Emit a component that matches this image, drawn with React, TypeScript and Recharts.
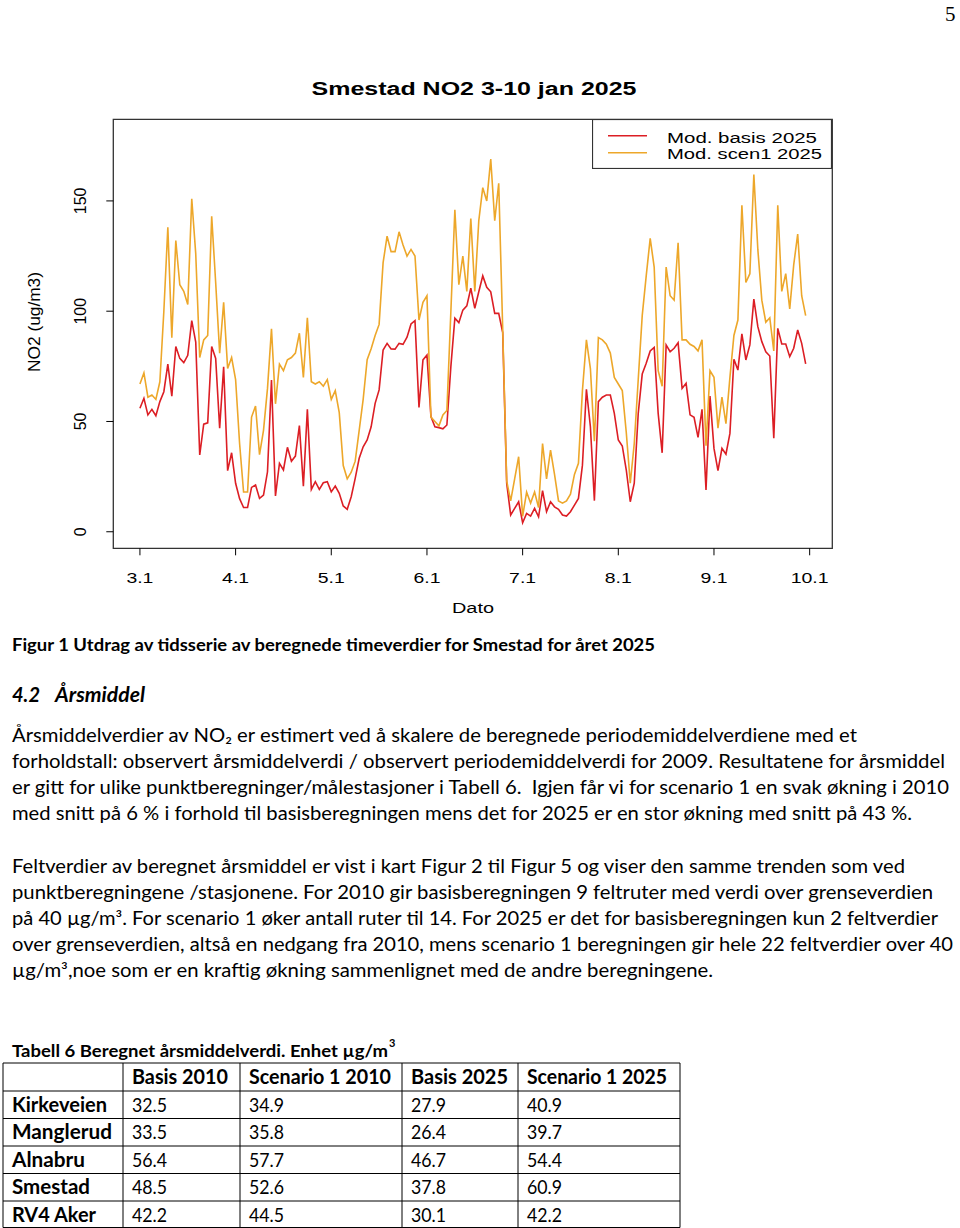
import React from 'react';
import { LineChart, Line, XAxis, YAxis, ReferenceArea, Legend } from 'recharts';

// Hourly NO2 values, 3 Jan 00:00 .. 9 Jan 23:00
const basis2025: number[] = [
  56, 60.5, 53, 55.5, 52.6, 59, 63.5, 76, 61.5, 84, 78.6, 76.7, 80, 95.7, 86, 34.8, 48.8, 49.4, 84, 78.6, 46.9, 74.8, 27.7, 35.8,
  22, 15, 11, 11, 20.1, 21.2, 15.1, 16.6, 27.2, 68.8, 16.2, 31, 28, 38.3, 32, 34.3, 48.1, 20.7, 55.5, 19.2, 22.7, 19.2, 22.2, 22.7,
  18.1, 20.7, 17.4, 11.7, 10.2, 15.9, 24.2, 33.3, 38.5, 41.6, 47.6, 58.2, 64.3, 82.4, 85.4, 82.9, 82.8, 85.4, 85, 88.2, 94.2, 95.7, 56.4, 77.9,
  80.1, 52.2, 47.6, 47.2, 46.7, 48.4, 75, 96.8, 94.8, 100.5, 102.4, 110.4, 101.3, 108.8, 116, 110.8, 108.8, 99, 99, 90.3, 22, 7.6,
  10.6, 13.6, 4.1, 8.3, 7.1, 10.6, 6.8, 18.6, 9.1, 13.6, 11.3, 10.2, 7.6, 7.1, 9.1, 12.1, 15.1, 30.2, 64.6, 47.6, 14.1, 59, 61, 62,
  62, 53.7, 41.6, 38.9, 28, 13.6, 22, 53.7, 71.5, 76.4, 82, 83.6, 53.7, 35.8, 84.7, 81.6, 83.2, 85.7, 65, 67.3, 53, 51.9, 42.8, 55.5,
  18.9, 61.5, 37.8, 27.7, 37.8, 35.2, 44.6, 78.2, 73.3, 89.7, 77.9, 84.7, 105.5, 93, 86.2, 81.6, 79.7, 42.4, 92.2, 85.1, 85.1, 79.4, 83.2, 91.5,
  85.4, 76.1,
];
const scen12025: number[] = [
  67, 72, 61, 62, 60, 68, 100, 138, 88, 132, 112, 109, 103, 151, 126, 79, 87, 89, 143, 113, 81, 104, 74, 79,
  69, 40, 18, 18, 52, 57, 35, 46, 65, 92, 58, 76, 73, 78, 79, 81, 90, 70, 97, 68, 67, 68, 66, 69,
  60, 64, 54, 30, 24, 27, 32, 46, 60, 78, 83, 89, 94, 122, 134, 127, 127, 136, 130, 125, 128, 125, 96, 104,
  107, 52, 50, 48, 53, 55, 100, 146, 112, 125, 109, 142, 109, 141, 156, 150, 169, 141, 158, 92, 23, 14,
  24, 34, 7, 18, 13, 18, 11, 40, 24, 37, 26, 14, 13, 14, 17, 26, 31, 64, 87, 74, 41, 88, 87, 85,
  81, 70, 67, 64, 45, 22, 40, 69, 98, 116, 133, 120, 73, 66, 120, 107, 105, 131, 87, 87, 85, 84, 82, 87,
  39, 73, 70, 47, 61, 49, 70, 89, 96, 148, 113, 117, 162, 128, 105, 95, 97, 82, 148, 109, 117, 101, 121, 135,
  107, 98,
];
const seriesNames = ['Mod. basis 2025', 'Mod. scen1 2025'];
const xTickHours = [0, 24, 48, 72, 96, 120, 144, 168];
const xTickLabels = ['3.1', '4.1', '5.1', '6.1', '7.1', '8.1', '9.1', '10.1'];
const yTicks = [0, 50, 100, 150];

const tableHeader = ['', 'Basis 2010', 'Scenario 1 2010', 'Basis 2025', 'Scenario 1 2025'];
const tableRows = ['Kirkeveien', 'Manglerud', 'Alnabru', 'Smestad', 'RV4 Aker'];
const basis2010 = ['32.5', '33.5', '56.4', '48.5', '42.2'];
const scen2010 = ['34.9', '35.8', '57.7', '52.6', '44.5'];
const basis2025Tab = ['27.9', '26.4', '46.7', '37.8', '30.1'];
const scen2025Tab = ['40.9', '39.7', '54.4', '60.9', '42.2'];

const data = basis2025.map((v, i) => ({ h: i, basis: v, scen1: scen12025[i] }));

const RED = '#DC1E24';
const ORANGE = '#EDA72A';
const CHART_FONT = '"Liberation Sans", Arial, sans-serif';
const TEXT_FONT = 'Lato, "Open Sans", sans-serif';

const XTick = (props: any) => {
  const { x, y, payload } = props;
  const idx = xTickHours.indexOf(payload.value);
  const label = xTickLabels[idx] ?? '';
  return (
    <text x={x} y={y + 28} textAnchor="middle" fontFamily={CHART_FONT} fontSize={15.5} fill="#000"
      textLength={label.length > 3 ? 38 : 27} lengthAdjust="spacingAndGlyphs">{label}</text>
  );
};

const YTick = (props: any) => {
  const { x, y, payload } = props;
  return (
    <text transform={`translate(${x - 20},${y}) rotate(-90)`} textAnchor="middle" fontFamily={CHART_FONT}
      fontSize={16} fill="#000">{payload.value}</text>
  );
};

const legendWidths = [150, 155];
const LegendBox = (props: any) => {
  const payload = props.payload || [];
  return (
    <svg width={240} height={50} style={{ display: 'block' }}>
      <rect x={0.5} y={0.5} width={239} height={49} fill="#fff" stroke="#333" strokeWidth={1.2} />
      {payload.map((p: any, i: number) => (
        <g key={i}>
          <line x1={16} x2={55} y1={16.7 + i * 17} y2={16.7 + i * 17} stroke={p.color} strokeWidth={1.6} />
          <text x={75} y={24 + i * 16.3} fontFamily={CHART_FONT} fontSize={15.5} fill="#000"
            textLength={legendWidths[i]} lengthAdjust="spacingAndGlyphs">{p.value}</text>
        </g>
      ))}
    </svg>
  );
};

type Line_ = { t: string; y: number; w: number };
const para1: Line_[] = [
  { t: 'Årsmiddelverdier av NO₂ er estimert ved å skalere de beregnede periodemiddelverdiene med et', y: 742, w: 845 },
  { t: 'forholdstall: observert årsmiddelverdi / observert periodemiddelverdi for 2009. Resultatene for årsmiddel', y: 768, w: 933 },
  { t: 'er gitt for ulike punktberegninger/målestasjoner i Tabell 6.  Igjen får vi for scenario 1 en svak økning i 2010', y: 794, w: 937 },
  { t: 'med snitt på 6 % i forhold til basisberegningen mens det for 2025 er en stor økning med snitt på 43 %.', y: 820, w: 900 },
];
const para2: Line_[] = [
  { t: 'Feltverdier av beregnet årsmiddel er vist i kart Figur 2 til Figur 5 og viser den samme trenden som ved', y: 873, w: 893 },
  { t: 'punktberegningene /stasjonene. For 2010 gir basisberegningen 9 feltruter med verdi over grenseverdien', y: 899, w: 921 },
  { t: 'på 40 µg/m³. For scenario 1 øker antall ruter til 14. For 2025 er det for basisberegningen kun 2 feltverdier', y: 925, w: 926 },
  { t: 'over grenseverdien, altså en nedgang fra 2010, mens scenario 1 beregningen gir hele 22 feltverdier over 40', y: 951, w: 941 },
  { t: 'µg/m³,noe som er en kraftig økning sammenlignet med de andre beregningene.', y: 977, w: 701 },
];

const colX = [3, 123, 240, 402, 518, 680];
const rowY = [1063, 1091, 1118.5, 1146, 1173.5, 1201, 1227.5];
const headerW = [0, 96, 142, 97, 140];
const rowLabelW = [95, 100, 73, 78, 84];

export default function App() {
  const columns = [basis2010, scen2010, basis2025Tab, scen2025Tab];
  return (
    <div style={{ position: 'absolute', left: 0, top: 0, width: 960, height: 1228, background: '#fff' }}>
      <div style={{ position: 'absolute', left: 0, top: 0 }}>
        <LineChart width={960} height={620} data={data}
          margin={{ top: 119.3, right: 127.7, left: 73.3, bottom: 41.7 }}>
          <XAxis dataKey="h" type="number" domain={[-6.68, 173.68]} allowDataOverflow ticks={xTickHours}
            interval={0} height={30} axisLine={false} tickSize={7} tickMargin={0}
            tickLine={{ stroke: '#000', strokeWidth: 1 }} tick={<XTick />} />
          <YAxis type="number" domain={[-7.5, 187]} allowDataOverflow ticks={yTicks} interval={0} width={40}
            axisLine={false} tickSize={7} tickMargin={0} tickLine={{ stroke: '#000', strokeWidth: 1 }} tick={<YTick />} />
          <ReferenceArea x1={-6.68} x2={173.68} y1={-7.5} y2={187} fill="none" stroke="#333" strokeWidth={1.3}
            ifOverflow="visible" />
          <Line type="linear" dataKey="basis" name={seriesNames[0]} stroke={RED} strokeWidth={1.6} dot={false}
            isAnimationActive={false} />
          <Line type="linear" dataKey="scen1" name={seriesNames[1]} stroke={ORANGE} strokeWidth={1.6} dot={false}
            isAnimationActive={false} />
          <Legend layout="vertical" align="center" verticalAlign="middle" content={<LegendBox />}
            wrapperStyle={{ left: 592, top: 119.3, width: 240, height: 50, margin: 0, padding: 0 }} />
        </LineChart>
      </div>
      <svg width={960} height={1228} style={{ position: 'absolute', left: 0, top: 0, pointerEvents: 'none' }}>
        <text x={945} y={21} fontFamily='"Liberation Serif", serif' fontSize={21} fill="#000">5</text>
        <text x={474} y={95} textAnchor="middle" fontFamily={CHART_FONT} fontWeight="bold" fontSize={17.5}
          fill="#000" textLength={325} lengthAdjust="spacingAndGlyphs">Smestad NO2 3-10 jan 2025</text>
        <text transform="translate(40,322) rotate(-90)" textAnchor="middle" fontFamily={CHART_FONT} fontSize={16.5}
          fill="#000" textLength={100} lengthAdjust="spacingAndGlyphs">NO2 (ug/m3)</text>
        <text x={473} y={613} textAnchor="middle" fontFamily={CHART_FONT} fontSize={15.5} fill="#000"
          textLength={42} lengthAdjust="spacingAndGlyphs">Dato</text>

        <text x={12} y={651} fontFamily={TEXT_FONT} fontWeight="bold" fontSize={16.5} fill="#000"
          textLength={643} lengthAdjust="spacingAndGlyphs">Figur 1 Utdrag av tidsserie av beregnede timeverdier for Smestad for året 2025</text>
        <text x={12} y={702} fontFamily={TEXT_FONT} fontWeight="bold" fontStyle="italic" fontSize={20} fill="#000"
          textLength={28} lengthAdjust="spacingAndGlyphs">4.2</text>
        <text x={55} y={702} fontFamily={TEXT_FONT} fontWeight="bold" fontStyle="italic" fontSize={20} fill="#000"
          textLength={90} lengthAdjust="spacingAndGlyphs">Årsmiddel</text>

        {[...para1, ...para2].map((l, i) => (
          <text key={i} x={12} y={l.y} fontFamily={TEXT_FONT} fontSize={18.5} fill="#000" textLength={l.w}
            lengthAdjust="spacingAndGlyphs" style={{ whiteSpace: 'pre' }}>{l.t}</text>
        ))}

        <text x={12} y={1057} fontFamily={TEXT_FONT} fontWeight="bold" fontSize={17} fill="#000"
          textLength={376} lengthAdjust="spacingAndGlyphs">Tabell 6 Beregnet årsmiddelverdi. Enhet µg/m</text>
        <text x={389} y={1047} fontFamily={TEXT_FONT} fontWeight="bold" fontSize={11} fill="#000">3</text>

        {rowY.map((y, i) => (
          <line key={'r' + i} x1={colX[0]} x2={colX[colX.length - 1]} y1={y} y2={y} stroke="#000" strokeWidth={1} />
        ))}
        {colX.map((x, i) => (
          <line key={'c' + i} x1={x} x2={x} y1={rowY[0]} y2={rowY[rowY.length - 1]} stroke="#000" strokeWidth={1} />
        ))}
        {tableHeader.map((h, i) => h ? (
          <text key={'h' + i} x={colX[i] + 9} y={1084} fontFamily={TEXT_FONT} fontWeight="bold" fontSize={20}
            fill="#000" textLength={headerW[i]} lengthAdjust="spacingAndGlyphs">{h}</text>
        ) : null)}
        {tableRows.map((r, ri) => (
          <g key={'row' + ri}>
            <text x={12} y={rowY[ri + 1] + 20.5} fontFamily={TEXT_FONT} fontWeight="bold" fontSize={20} fill="#000"
              textLength={rowLabelW[ri]} lengthAdjust="spacingAndGlyphs">{r}</text>
            {columns.map((col, ci) => (
              <text key={ci} x={colX[ci + 1] + 9} y={rowY[ri + 1] + 20.5} fontFamily={TEXT_FONT} fontSize={20}
                fill="#000" textLength={35} lengthAdjust="spacingAndGlyphs">{col[ri]}</text>
            ))}
          </g>
        ))}
      </svg>
    </div>
  );
}
